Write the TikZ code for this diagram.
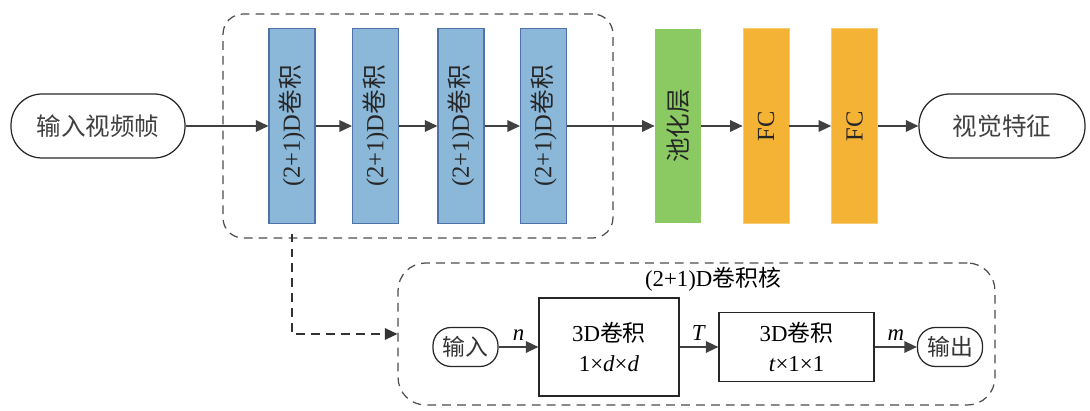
\documentclass[tikz,border=0pt]{standalone}
\usepackage{fontspec}
\setmainfont{Liberation Serif}
\newfontfamily\cjk{Noto Sans CJK SC}
\usetikzlibrary{arrows.meta}
\def\zh#1{{\cjk #1}}
\definecolor{convblue}{RGB}{139,183,217}
\definecolor{convedge}{RGB}{79,114,168}
\definecolor{poolgreen}{RGB}{139,201,99}
\definecolor{fcorange}{RGB}{245,179,53}
\definecolor{linegray}{RGB}{64,64,64}
\tikzset{
  layer/.style={rotate=90, minimum width=3.9cm, minimum height=0.92cm, inner sep=0pt, text=black!85, font=\fontsize{14}{17}\selectfont},
  convlayer/.style={layer, fill=convblue, draw=convedge, line width=0.6pt},
  poollayer/.style={layer, fill=poolgreen},
  fclayer/.style={layer, fill=fcorange, draw=fcorange!70!white, line width=0.4pt},
  pill/.style={draw=black!85, line width=0.7pt, rounded corners=0.62cm, minimum height=1.28cm, text=black!75, font=\fontsize{14}{17}\selectfont},
  smallpill/.style={draw=black!85, line width=0.7pt, rounded corners=0.36cm, minimum width=1.3cm, minimum height=0.78cm, inner sep=1pt, text=black!80},
  kernelbox/.style={draw=black!85, line width=0.7pt, align=center},
  flow/.style={linegray, line width=0.8pt, -{Triangle[length=0.25cm,width=0.23cm]}},
  group/.style={draw=black!70, line width=0.7pt, dash pattern=on 5pt off 3.5pt},
  dashlink/.style={black!80, line width=0.7pt, dash pattern=on 5pt off 3.5pt, -{Triangle[length=0.25cm,width=0.23cm]}}
}

\begin{document}
\begin{tikzpicture}[x=0.02cm, y=-0.02cm, font=\fontsize{13}{17}\selectfont]
    \useasboundingbox (0,0) rectangle (1090,411);
    % dashed groups
    \node[group, rounded corners=0.4cm, minimum width=7.8cm, minimum height=4.48cm] (convgrp) at (418,126) {};
    \node[group, rounded corners=0.55cm, minimum width=11.94cm, minimum height=2.84cm] (kernel) at (696.5,334) {};
    \node (kerneltitle) at (713,279) {(2+1)D\zh{卷积核}};
    % main chain
    \node[pill, minimum width=3.48cm] (in) at (98,126) {\zh{输入视频帧}};
    \foreach \i/\x in {1/292,2/375.5,3/461,4/543.5}
        \node[convlayer] (c\i) at (\x,126) {(2+1)D\zh{卷积}};
    \node[poollayer] (pool) at (678,126) {\zh{池化层}};
    \node[fclayer] (fc1) at (766,126) {FC};
    \node[fclayer] (fc2) at (854.5,126) {FC};
    \node[pill, minimum width=3.32cm] (out) at (1002,126) {\zh{视觉特征}};
    \draw[flow] (in) -- (c1);
    \draw[flow] (c1) -- (c2);
    \draw[flow] (c2) -- (c3);
    \draw[flow] (c3) -- (c4);
    \draw[flow] (c4) -- (pool);
    \draw[flow] (pool) -- (fc1);
    \draw[flow] (fc1) -- (fc2);
    \draw[flow] (fc2) -- (out);
    % kernel detail
    \node[smallpill] (kin) at (465.5,347) {\zh{输入}};
    \node[kernelbox, minimum width=2.8cm, minimum height=1.96cm] (spat) at (609,347) {3D\zh{卷积}\\1×\textit{d}×\textit{d}};
    \node[kernelbox, minimum width=3.1cm, minimum height=1.38cm] (temp) at (796.5,347) {3D\zh{卷积}\\\textit{t}×1×1};
    \node[smallpill] (kout) at (950,347) {\zh{输出}};
    \draw[flow] (kin) -- node[midway, above, text=black] {\textit{n}} (spat);
    \draw[flow] (spat) -- node[midway, above, text=black] {\textit{T}} (temp);
    \draw[flow] (temp) -- node[midway, above, text=black] {\textit{m}} (kout);
    \path (convgrp.south -| c1) ++(0,-5) coordinate (tap);
    \draw[dashlink] (tap) |- (kernel.west);
\end{tikzpicture}
\end{document}
